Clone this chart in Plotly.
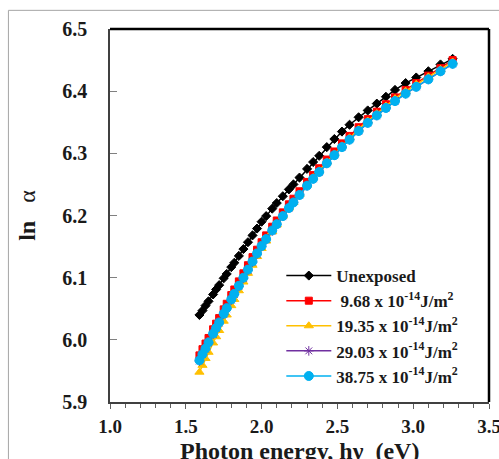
import plotly.graph_objects as go

energy = [1.59, 1.61, 1.63, 1.65, 1.68, 1.70, 1.72, 1.75, 1.77, 1.80, 1.82, 1.85, 1.88, 1.91,
          1.94, 1.97, 2.00, 2.03, 2.07, 2.10, 2.14, 2.18, 2.21, 2.25, 2.30, 2.34, 2.38, 2.43,
          2.48, 2.53, 2.58, 2.64, 2.70, 2.76, 2.82, 2.88, 2.95, 3.02, 3.10, 3.18, 3.26]

unexposed = [6.040, 6.047, 6.055, 6.062, 6.073, 6.081, 6.088, 6.099, 6.106, 6.117, 6.124, 6.135,
             6.146, 6.157, 6.168, 6.179, 6.190, 6.199, 6.211, 6.220, 6.231, 6.242, 6.250, 6.261,
             6.275, 6.286, 6.296, 6.310, 6.323, 6.335, 6.346, 6.358, 6.369, 6.380, 6.391, 6.402,
             6.413, 6.422, 6.432, 6.443, 6.452]

dose_968 = [5.975, 5.985, 5.994, 6.003, 6.017, 6.026, 6.035, 6.049, 6.058, 6.072, 6.081, 6.094,
            6.107, 6.120, 6.133, 6.145, 6.157, 6.168, 6.182, 6.192, 6.205, 6.218, 6.227, 6.239,
            6.254, 6.265, 6.276, 6.290, 6.303, 6.316, 6.328, 6.342, 6.355, 6.367, 6.379, 6.390,
            6.402, 6.413, 6.425, 6.437, 6.450]

dose_1935 = [5.948, 5.959, 5.970, 5.980, 5.995, 6.005, 6.015, 6.030, 6.040, 6.055, 6.065, 6.079,
             6.093, 6.107, 6.120, 6.134, 6.147, 6.159, 6.174, 6.185, 6.199, 6.212, 6.221, 6.234,
             6.249, 6.261, 6.272, 6.286, 6.299, 6.312, 6.325, 6.339, 6.352, 6.364, 6.376, 6.388,
             6.400, 6.411, 6.423, 6.435, 6.447]

dose_2903 = [5.966, 5.976, 5.985, 5.995, 6.009, 6.018, 6.027, 6.041, 6.050, 6.064, 6.073, 6.086,
             6.099, 6.112, 6.125, 6.138, 6.150, 6.161, 6.175, 6.186, 6.199, 6.212, 6.221, 6.233,
             6.248, 6.259, 6.270, 6.284, 6.297, 6.310, 6.322, 6.336, 6.349, 6.361, 6.373, 6.384,
             6.396, 6.407, 6.419, 6.432, 6.444]

dose_3875 = [5.967, 5.977, 5.986, 5.996, 6.010, 6.019, 6.028, 6.042, 6.051, 6.065, 6.074, 6.087,
             6.100, 6.113, 6.126, 6.139, 6.151, 6.162, 6.176, 6.186, 6.199, 6.212, 6.221, 6.233,
             6.248, 6.259, 6.270, 6.284, 6.297, 6.310, 6.322, 6.336, 6.349, 6.361, 6.373, 6.384,
             6.396, 6.407, 6.419, 6.432, 6.444]

names = ["<b>Unexposed</b>",
         "<b> 9.68 x 10<sup>-14</sup>J/m<sup>2</sup></b>",
         "<b>19.35 x 10<sup>-14</sup>J/m<sup>2</sup></b>",
         "<b>29.03 x 10<sup>-14</sup>J/m<sup>2</sup></b>",
         "<b>38.75 x 10<sup>-14</sup>J/m<sup>2</sup></b>"]

x_title = "<b>Photon energy, hν  (eV)</b>"
y_title = "<b>ln</b>   α"

series = [unexposed, dose_968, dose_1935, dose_2903, dose_3875]
colors = ["#000000", "#ff0000", "#ffc000", "#7030a0", "#00b0f0"]
symbols = ["diamond", "square", "triangle-up", "asterisk-open", "circle"]
sizes = [7, 7, 8, 8, 9]

fig = go.Figure()
for ys, nm, c, s, sz in zip(series, names, colors, symbols, sizes):
    fig.add_trace(go.Scatter(
        x=energy, y=ys, name=nm, mode="lines+markers",
        line=dict(color=c, width=1.5),
        marker=dict(color=c, symbol=s, size=sz, line=dict(color=c, width=1)),
    ))

serif = "Liberation Serif"
fig.update_layout(
    width=499, height=459,
    margin=dict(l=110, r=10, t=29, b=57),
    paper_bgcolor="white", plot_bgcolor="white",
    font=dict(family=serif, color="#1a1a1a"),
    showlegend=True,
    legend=dict(x=0.452, y=0.386, xanchor="left", yanchor="top",
                bgcolor="rgba(0,0,0,0)", font=dict(family=serif, size=17, color="#1a1a1a"),
                tracegroupgap=0, itemwidth=45),
    xaxis=dict(range=[1.0, 3.5], dtick=0.5, tick0=1.0, tickformat=".1f", automargin=False,
               showgrid=False, zeroline=False, showline=True, linecolor="#404040", linewidth=1.5,
               ticks="outside", ticklen=5, tickcolor="#606060",
               minor=dict(dtick=0.1, ticks="outside", ticklen=4, tickcolor="#606060"),
               tickfont=dict(family=serif, size=19, color="#1a1a1a", weight="bold"),
               ticklabelstandoff=1, ticklabeloverflow="allow"),
    yaxis=dict(range=[5.9, 6.5], dtick=0.1, tickformat=".1f", automargin=False,
               showgrid=False, zeroline=False, showline=True, linecolor="#404040", linewidth=1.5,
               ticks="inside", ticklen=7, tickcolor="#808080",
               tickfont=dict(family=serif, size=20, color="#1a1a1a", weight="bold"),
               ticklabelstandoff=17, ticklabeloverflow="allow",
               title=dict(text=y_title, font=dict(family=serif, size=24, color="#1a1a1a"),
                          standoff=20)),
)

fig.add_annotation(text=x_title, xref="paper", yref="paper", x=0.5, y=-0.092,
                   xanchor="center", yanchor="top", showarrow=False,
                   font=dict(family=serif, size=24, color="#1a1a1a"))

# frame: top and right black lines, outer chart border
fig.add_shape(type="line", xref="paper", yref="paper", x0=0, x1=1, y0=1, y1=1,
              line=dict(color="black", width=2.5))
fig.add_shape(type="line", xref="paper", yref="paper", x0=1, x1=1, y0=0, y1=1,
              line=dict(color="black", width=2.5))
fig.add_shape(type="line", xref="paper", yref="paper", x0=-0.268, x1=1.1, y0=1.05, y1=1.05,
              line=dict(color="#a6a6a6", width=1))
fig.add_shape(type="line", xref="paper", yref="paper", x0=-0.268, x1=-0.268, y0=-0.2, y1=1.05,
              line=dict(color="#a6a6a6", width=1))

fig.write_html("out.html", config={"displayModeBar": False},
               post_script="document.body.style.margin='0';document.body.style.overflow='hidden';")
